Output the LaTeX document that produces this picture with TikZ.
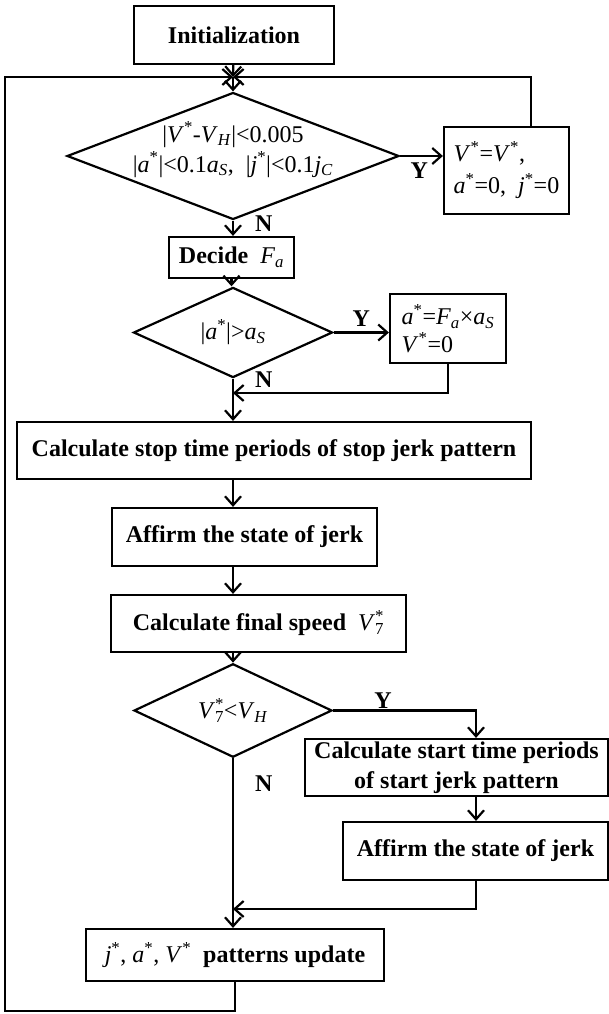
\documentclass[tikz,border=0pt]{standalone}
\usepackage{fontspec}
\setmainfont{Liberation Serif}
\usetikzlibrary{shapes.geometric, arrows.meta, positioning, calc}
\newcommand{\mvar}[1]{\textnormal{\textit{#1}}}
\newcommand{\astk}{\textsuperscript{\textnormal{*}}}
\newcommand{\sbs}[1]{\textsubscript{\mvar{#1}}}
\tikzset{
  procbox/.style={
    draw, rectangle, line width=2.2pt, inner sep=0pt,
    font=\fontsize{24}{30}\selectfont\bfseries, align=center,
  },
  decisionnode/.style={
    draw, diamond, line width=2.2pt, inner sep=0pt,
    font=\fontsize{24}{30}\selectfont, align=center,
  },
  arw/.style={-{Straight Barb[length=9pt, width=16pt]}, line width=2.2pt},
  lne/.style={line width=2.2pt},
  lbl/.style={font=\fontsize{24}{28}\selectfont\bfseries, inner sep=1pt},
}
\begin{document}
\begin{tikzpicture}[x=1pt, y=-1pt]
  \useasboundingbox (0,0) rectangle (609,1014);

  % Start and first check
  \node[procbox, minimum width=200pt, minimum height=58pt]
    (init) at (234, 35) {Initialization};
  \coordinate (join) at (233, 77);
  \node[decisionnode, inner xsep=-4pt, inner ysep=-13pt, aspect=2.6,
        minimum width=332pt, minimum height=127pt]
    (stopchk) at (233, 156)
    {|\mvar{V}\astk-\mvar{V}\sbs{H}|<0.005\\
     |\mvar{a}\astk|<0.1\mvar{a}\sbs{S}, \ |\mvar{j}\astk|<0.1\mvar{j}\sbs{C}\rule[-18pt]{0pt}{0pt}};
  \node[procbox, align=left, font=\fontsize{24}{32}\selectfont,
        minimum width=125pt, minimum height=87pt]
    (hold) at (506.5, 170.5)
    {\mvar{V}\astk=\mvar{V}\astk,\\ \mvar{a}\astk=0, \ \mvar{j}\astk=0};

  % Acceleration limit
  \node[procbox, minimum width=125pt, minimum height=41pt]
    (decide) at (231.5, 257.5) {Decide~~\mvar{F}\sbs{a}};
  \node[decisionnode, minimum width=199pt, minimum height=63pt]
    (accchk) at (233, 332.5) {|\mvar{a}\astk|>\mvar{a}\sbs{S}};
  \node[procbox, align=left, font=\fontsize{24}{28}\selectfont,
        minimum width=116pt, minimum height=69pt]
    (limit) at (448, 328.5)
    {\mvar{a}\astk=\mvar{F}\sbs{a}×\mvar{a}\sbs{S}\\ \mvar{V}\astk=0};
  \coordinate (merge1) at (233, 393);

  % Stop pattern
  \node[procbox, minimum width=514pt, minimum height=57pt]
    (stoptime) at (274, 450.5) {Calculate stop time periods of stop jerk pattern};
  \node[procbox, minimum width=265pt, minimum height=58pt]
    (affirm) at (244.5, 537) {Affirm the state of jerk};
  \node[procbox, minimum width=295pt, minimum height=57pt]
    (finalv) at (258.5, 623.5)
    {Calculate final speed~~\textnormal{\mvar{V}\rlap{\astk}\textsubscript{7}}};
  \node[decisionnode, minimum width=198pt, minimum height=57pt]
    (speedchk) at (233, 710.5)
    {\mvar{V}\rlap{\astk}\textsubscript{7}<\mvar{V}\sbs{H}};

  % Start pattern
  \coordinate (branchR) at (476, 710.5);
  \node[procbox, minimum width=303pt, minimum height=57pt]
    (starttime) at (456.5, 767.5)
    {Calculate start time periods\\of start jerk pattern};
  \node[procbox, minimum width=265pt, minimum height=58pt]
    (affirm2) at (475.5, 851) {Affirm the state of jerk};
  \coordinate (merge2) at (233, 909);
  \node[procbox, minimum width=298pt, minimum height=52pt]
    (update) at (235, 955)
    {\textnormal{\mvar{j}\astk, \mvar{a}\astk, \mvar{V}\astk}~~patterns update};

  % Loop corners
  \coordinate (retR) at (531, 77);
  \coordinate (retL) at (5, 77);
  \coordinate (retLB) at (5, 1011);

  % Connectors
  \draw[arw] (init) -- (join);
  \draw[arw] (join) -- (stopchk);
  \draw[arw] (stopchk.east) -- node[lbl, below=5pt, pos=0.45] {Y} (stopchk.east -| hold.west);
  \draw[arw] (retR |- hold.north) -- (retR) -- (join);
  \draw[arw] (stopchk.south) -- node[lbl, pos=0.2, right=20pt] {N} (stopchk.south |- decide.north);
  \draw[arw] (decide.south) -- (decide.south |- accchk.north);
  \draw[arw] (accchk.east) -- node[lbl, above=4pt] {Y} (accchk.east -| limit.west);
  \draw[arw] (limit.south) |- (merge1);
  \draw[lne] (accchk.south) -- node[lbl, pos=0.1, right=20pt] {N} (merge1);
  \draw[arw] (merge1) -- (merge1 |- stoptime.north);
  \draw[arw] (merge1 |- stoptime.south) -- (merge1 |- affirm.north);
  \draw[arw] (merge1 |- affirm.south) -- (merge1 |- finalv.north);
  \draw[arw] (merge1 |- finalv.south) -- (speedchk);
  \draw[arw] (speedchk.east) -- node[lbl, above, pos=0.35] {Y} (branchR) -- (branchR |- starttime.north);
  \draw[arw] (branchR |- starttime.south) -- (branchR |- affirm2.north);
  \draw[arw] (branchR |- affirm2.south) |- (merge2);
  \draw[arw] (speedchk.south) -- node[lbl, pos=0.15, right=20pt] {N} (speedchk.south |- update.north);
  \draw[arw] (update.south) |- (retLB) -- (retL) -- (join);

\end{tikzpicture}
\end{document}
